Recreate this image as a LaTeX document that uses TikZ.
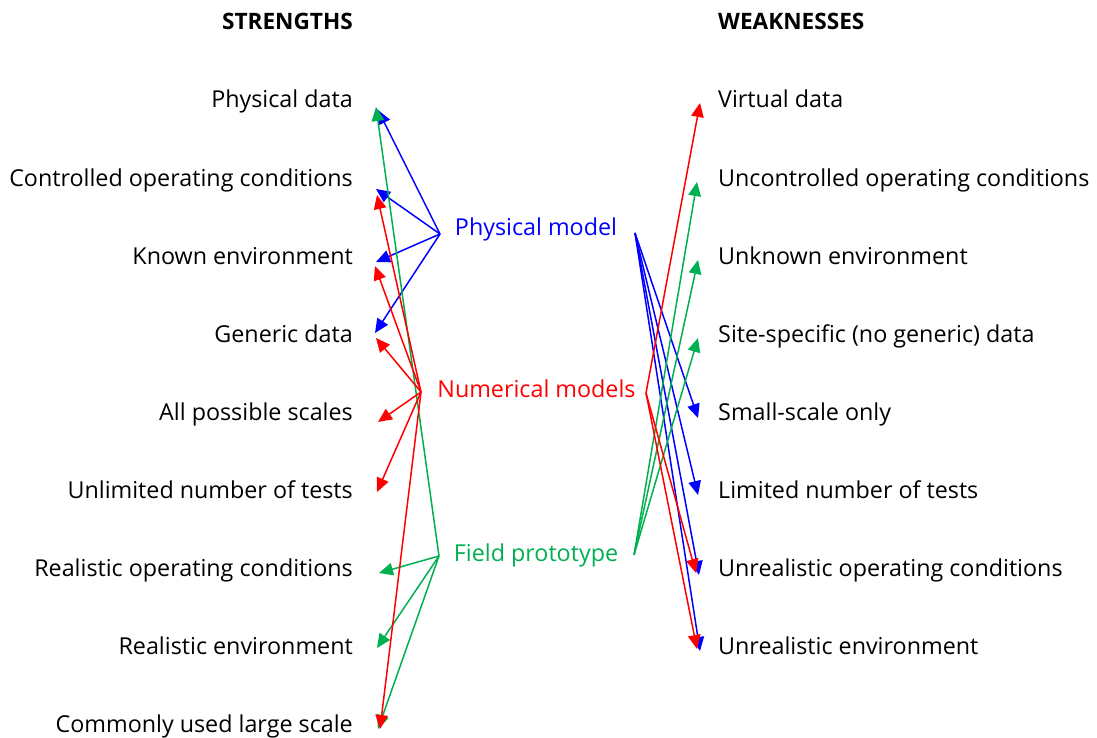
\documentclass[tikz,border=0pt]{standalone}
\usepackage{fontspec}
\setmainfont{Open Sans}
\usetikzlibrary{arrows.meta}
\definecolor{pblue}{RGB}{0,0,255}
\definecolor{nred}{RGB}{255,0,0}
\definecolor{fgreen}{RGB}{0,176,80}
\tikzset{
  lbl/.style={font=\fontsize{23.3}{28}\selectfont, inner sep=0pt},
  hdr/.style={font=\fontsize{22.6}{27}\selectfont\bfseries, inner sep=0pt},
  ctr/.style={font=\fontsize{23.3}{28}\selectfont, inner sep=0pt, anchor=base},
  arr/.style={line width=1.5pt, -{Triangle[length=14pt,width=12.5pt]}},
}
\begin{document}
\begin{tikzpicture}[x=1pt,y=-1pt]
\useasboundingbox (0,0) rectangle (1097,738);
% headers
\node[hdr, anchor=base east] (hs) at (353,30) {STRENGTHS};
\node[hdr, anchor=base west] (hw) at (718,30) {WEAKNESSES};
% left labels
\node[lbl, anchor=base east] (l1) at (353,108) {Physical data};
\node[lbl, anchor=base east] (l2) at (353,186) {Controlled operating conditions};
\node[lbl, anchor=base east] (l3) at (353,264) {Known environment};
\node[lbl, anchor=base east] (l4) at (353,342) {Generic data};
\node[lbl, anchor=base east] (l5) at (353,420) {All possible scales};
\node[lbl, anchor=base east] (l6) at (353,498) {Unlimited number of tests};
\node[lbl, anchor=base east] (l7) at (353,576) {Realistic operating conditions};
\node[lbl, anchor=base east] (l8) at (353,654) {Realistic environment};
\node[lbl, anchor=base east] (l9) at (353,732) {Commonly used large scale};
% right labels
\node[lbl, anchor=base west] (r1) at (718,108) {Virtual data};
\node[lbl, anchor=base west] (r2) at (718,186) {Uncontrolled operating conditions};
\node[lbl, anchor=base west] (r3) at (718,264) {Unknown environment};
\node[lbl, anchor=base west] (r4) at (718,342) {Site-specific (no generic) data};
\node[lbl, anchor=base west] (r5) at (718,420) {Small-scale only};
\node[lbl, anchor=base west] (r6) at (718,498) {Limited number of tests};
\node[lbl, anchor=base west] (r7) at (718,576) {Unrealistic operating conditions};
\node[lbl, anchor=base west] (r8) at (718,654) {Unrealistic environment};
% centre labels
\node[ctr, text=pblue] (pm) at (536,235) {Physical model};
\node[ctr, text=nred] (nm) at (536.5,397) {Numerical models};
\node[ctr, text=fgreen] (fp) at (536,561) {Field prototype};
% arrow origins
\coordinate (pmL) at (440,234);
\coordinate (pmR) at (635,233);
\coordinate (nmL) at (421,392);
\coordinate (nmR) at (646,393);
\coordinate (fpL) at (439,556);
\coordinate (fpR) at (634,555);
% left tips
\coordinate (tl1b) at (378,110);
\coordinate (tl1g) at (376,107);
\coordinate (tl2b) at (376,189);
\coordinate (tl2r) at (377,195);
\coordinate (tl3b) at (376,262);
\coordinate (tl3r) at (375,266);
\coordinate (tl4b) at (375,333);
\coordinate (tl4r) at (376,338);
\coordinate (tl5r) at (378,422);
\coordinate (tl6r) at (377,492);
\coordinate (tl7g) at (379,573);
\coordinate (tl8g) at (377,648);
\coordinate (tl9r) at (380,729);
\coordinate (tl9g) at (378,729);
% right tips
\coordinate (tr1r) at (700,103);
\coordinate (tr2g) at (697,182);
\coordinate (tr3g) at (698,260);
\coordinate (tr4g) at (698,338);
\coordinate (tr5b) at (698,418);
\coordinate (tr6b) at (698,495);
\coordinate (tr7b) at (699,575);
\coordinate (tr7r) at (696,573);
\coordinate (tr8b) at (700,651);
\coordinate (tr8r) at (697,649);
% physical model arrows
\draw[arr, pblue] (pmL) -- (tl1b);
\draw[arr, pblue] (pmL) -- (tl2b);
\draw[arr, pblue] (pmL) -- (tl3b);
\draw[arr, pblue] (pmL) -- (tl4b);
\draw[arr, pblue] (pmR) -- (tr5b);
\draw[arr, pblue] (pmR) -- (tr6b);
\draw[arr, pblue] (pmR) -- (tr7b);
\draw[arr, pblue] (pmR) -- (tr8b);
% field prototype arrows
\draw[arr, fgreen] (fpL) -- (tl1g);
\draw[arr, fgreen] (fpL) -- (tl7g);
\draw[arr, fgreen] (fpL) -- (tl8g);
\draw[arr, fgreen] (fpL) -- (tl9g);
\draw[arr, fgreen] (fpR) -- (tr2g);
\draw[arr, fgreen] (fpR) -- (tr3g);
\draw[arr, fgreen] (fpR) -- (tr4g);
% numerical model arrows
\draw[arr, nred] (nmL) -- (tl2r);
\draw[arr, nred] (nmL) -- (tl3r);
\draw[arr, nred] (nmL) -- (tl4r);
\draw[arr, nred] (nmL) -- (tl5r);
\draw[arr, nred] (nmL) -- (tl6r);
\draw[arr, nred] (nmL) -- (tl9r);
\draw[arr, nred] (nmR) -- (tr1r);
\draw[arr, nred] (nmR) -- (tr7r);
\draw[arr, nred] (nmR) -- (tr8r);
\end{tikzpicture}
\end{document}
